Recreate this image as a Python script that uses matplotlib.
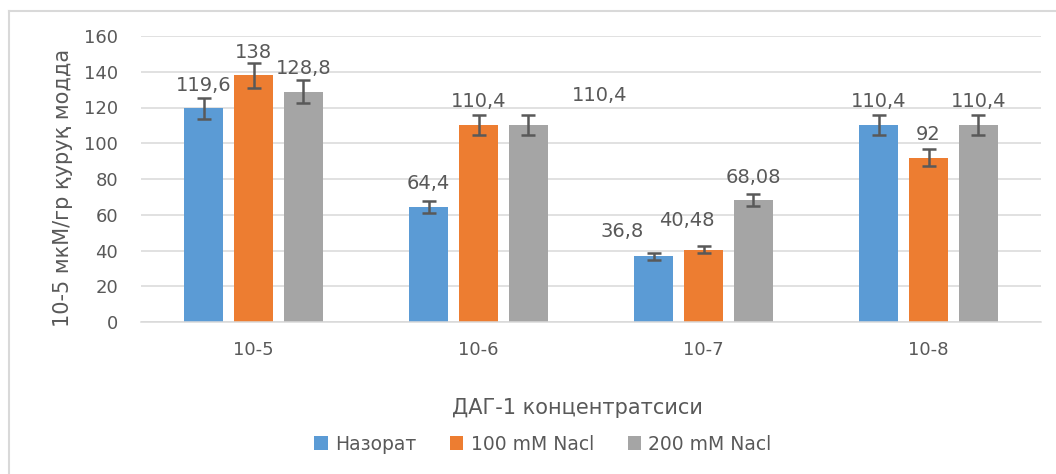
import matplotlib
matplotlib.use("Agg")
import matplotlib.pyplot as plt
from matplotlib.lines import Line2D
import numpy as np

# ── Data ──────────────────────────────────────────────────────────────────────
categories = ["10-5", "10-6", "10-7", "10-8"]
series_names = ["Назорат", "100 mM Nacl", "200 mM Nacl"]
control = [119.6, 64.4, 36.8, 110.4]
nacl_100 = [138.0, 110.4, 40.48, 92.0]
nacl_200 = [128.8, 110.4, 68.08, 110.4]
err_control = [5.98, 3.22, 1.84, 5.52]
err_100 = [6.9, 5.52, 2.02, 4.6]
err_200 = [6.44, 5.52, 3.4, 5.52]
yticks = [0, 20, 40, 60, 80, 100, 120, 140, 160]
y_label = "10-5 мкМ/гр қуруқ модда"
x_label = "ДАГ-1 концентратсиси"

COLORS = ["#5B9BD5", "#ED7D31", "#A5A5A5"]
TEXT = "#595959"
GRID = "#D9D9D9"

# label offsets (pixels), keyed (category, series), for labels moved by hand
label_shift = {
    (2, 0): (-31, 2),
    (2, 1): (-17, 6),
    (1, 2): (71, 6),
}

fig = plt.figure(figsize=(10.56, 4.74), dpi=100)
ax = fig.add_axes([141 / 1056, 1 - 322 / 474, 900 / 1056, 286 / 474])

x = np.arange(len(categories))
width = 0.173
step = 0.222
all_vals = [control, nacl_100, nacl_200]
all_errs = [err_control, err_100, err_200]

for i, (vals, errs) in enumerate(zip(all_vals, all_errs)):
    pos = x + (i - 1) * step
    ax.bar(pos, vals, width, color=COLORS[i], label=series_names[i], zorder=2)
    ax.errorbar(pos, vals, yerr=errs, fmt="none", ecolor=TEXT, elinewidth=1.8,
                capsize=5, capthick=1.8, zorder=3)
    for j, v in enumerate(vals):
        dx, dy = label_shift.get((j, i), (0, 0))
        txt = f"{v:g}".replace(".", ",")
        ax.annotate(txt, (pos[j], v), xytext=(dx * 0.72, (23 + dy) * 0.72),
                    textcoords="offset points", ha="center", va="center",
                    fontsize=14, color=TEXT, zorder=4)

ax.set_xlim(-0.5, len(categories) - 0.5)
ax.set_ylim(0, 160)
ax.set_yticks(yticks)
ax.set_xticks(x)
ax.set_xticklabels(categories)
ax.tick_params(axis="both", length=0, labelsize=13, colors=TEXT)
ax.tick_params(axis="x", pad=14)
ax.tick_params(axis="y", pad=16.5)
ax.yaxis.grid(True, color=GRID, lw=1.1, zorder=0)
ax.set_axisbelow(True)
for s in ["top", "right", "left"]:
    ax.spines[s].set_visible(False)
ax.spines["bottom"].set_color(GRID)
ax.spines["bottom"].set_linewidth(1.1)

ax.set_ylabel(y_label, fontsize=15, color=TEXT)
ax.yaxis.set_label_coords(-68 / 900, (322 - 188) / 286)
ax.set_xlabel(x_label, fontsize=15, color=TEXT)
ax.xaxis.set_label_coords((577 - 141) / 900, -(398 - 322) / 286)

leg = fig.legend(loc="center", bbox_to_anchor=(543 / 1056, 1 - 444 / 474), ncol=3,
                 frameon=False, fontsize=13.5, handlelength=0.7, handleheight=0.7,
                 handletextpad=0.4, columnspacing=1.8)
for t in leg.get_texts():
    t.set_color(TEXT)

# chart area border (only left and top visible in the crop)
fig.add_artist(Line2D([9 / 1056, 9 / 1056], [0, 1 - 11 / 474], color=GRID, lw=1.5,
                      transform=fig.transFigure))
fig.add_artist(Line2D([9 / 1056, 1], [1 - 11 / 474, 1 - 11 / 474], color=GRID, lw=1.5,
                      transform=fig.transFigure))

fig.savefig("out.png", dpi=100, facecolor="white")
